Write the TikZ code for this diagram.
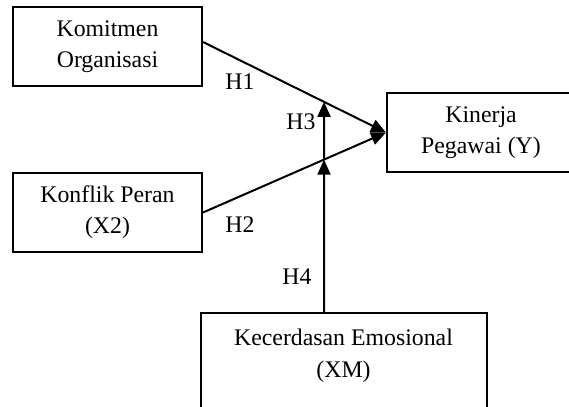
\documentclass[tikz,border=0pt]{standalone}
\usepackage{fontspec}
\setmainfont{Liberation Serif}
\usetikzlibrary{arrows.meta,positioning,calc}
\tikzset{
  var/.style  = {draw, line width=1pt, align=center, inner sep=0pt,
                 minimum width=94.5pt, minimum height=39.5pt,
                 font=\fontsize{11.9pt}{15.5pt}\selectfont},
  vtxt/.style = {align=center, inner sep=0pt, font=\fontsize{11.9pt}{16pt}\selectfont},
  ar/.style   = {-{Triangle[length=7.5pt, width=6.5pt]}, line width=1pt},
  hyp/.style  = {inner sep=0pt, font=\fontsize{11.9pt}{14pt}\selectfont},
}

\begin{document}
\begin{tikzpicture}[x=0.5pt, y=-0.5pt]
  \clip (0,0) rectangle (569,407);
  \node[var] (kom) at (107.5,46.5) {Komitmen\\Organisasi};
  \node[var] (kon) at (107.5,212.5) {Konflik Peran\\(X2)};
  \node[var, minimum width=94pt] (kin) at (481,132.5) {Kinerja\\Pegawai (Y)};
  \node[var, minimum width=143pt, minimum height=60pt, anchor=north,
        label={[vtxt, anchor=north, yshift=-8.4pt]north:{Kecerdasan Emosional\\(XM)}}] (kec) at (343.5,312) {};
  \coordinate (k1) at ([yshift=2.25pt]kom.east);
  \coordinate (base) at ([xshift=-9.75pt]kec.north);
  \coordinate (up) at ([xshift=-9.75pt, yshift=150pt]kec.north);
  \coordinate (m1) at (intersection of base--up and k1--kin.west);
  \coordinate (m2) at (intersection of base--up and kon.east--kin.west);
  \draw[ar] (k1)--(kin.west); \draw[ar] (kon.east)--(kin.west);
  \draw[ar] (base)--(m2); \draw[ar] (m2)--(m1);
  \node[hyp] (h1) at (240,82) {H1};
  \node[hyp] (h2) at (240,225) {H2};
  \node[hyp] (h3) at (301,122) {H3};
  \node[hyp] (h4) at (297,277) {H4};
\end{tikzpicture}
\end{document}
